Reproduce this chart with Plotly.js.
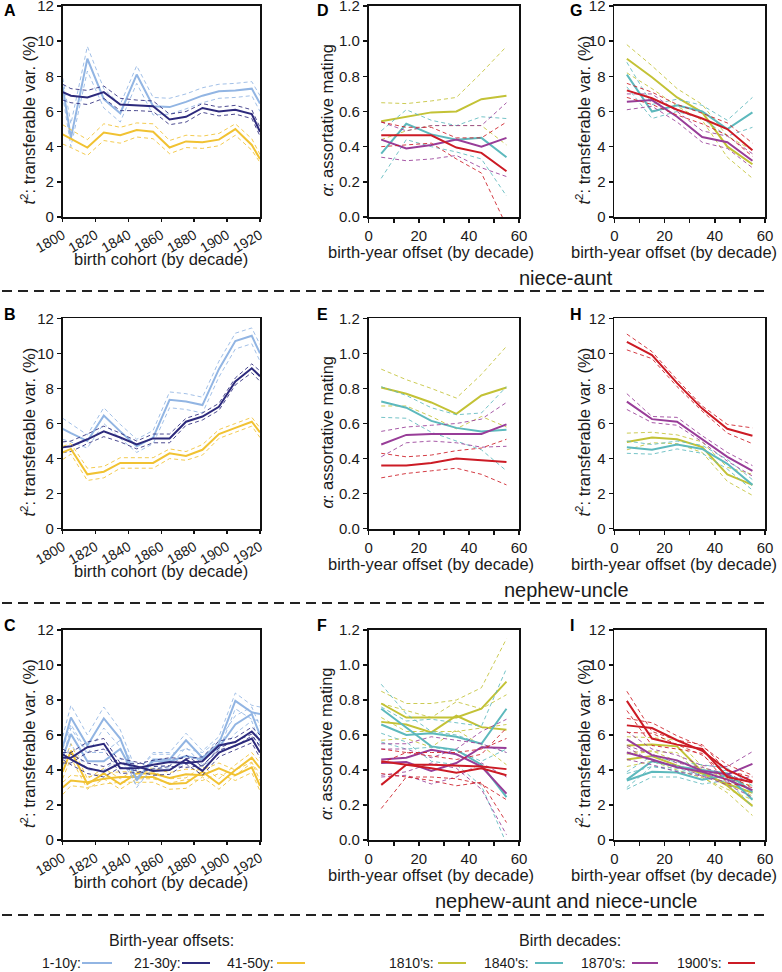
<!DOCTYPE html>
<html><head><meta charset="utf-8">
<script src="https://cdn.plot.ly/plotly-3.0.1.min.js"></script>
<style>html,body{margin:0;padding:0;background:#fff}#chart{width:782px;height:972px}</style>
</head><body><div id="chart"></div>
<script>
// ---------- data ----------
const cohortX = [1800,1805,1815,1825,1835,1845,1855,1865,1875,1885,1895,1905,1915,1920];
const offsetX = [5,15,25,35,45,55];
const cohortTicks = [1800,1820,1840,1860,1880,1900,1920];
const offsetTicks = [0,20,40,60];
const pctTicks = [0,2,4,6,8,10,12];
const alphaTicks = [0,0.2,0.4,0.6,0.8,1.0,1.2];

// Panel A: niece-aunt, by cohort
const A_light    = [7.4,4.5,9.0,6.7,5.9,8.1,6.3,6.25,6.55,6.9,7.15,7.2,7.3,6.45];
const A_light_hi = [7.9,5.3,9.7,7.3,6.4,8.6,6.8,6.75,7.0,7.35,7.55,7.6,7.7,6.9];
const A_light_lo = [6.9,4.0,8.3,6.2,5.4,7.6,5.8,5.85,6.15,6.5,6.75,6.8,6.9,6.0];
const A_dark     = [7.1,6.9,6.8,7.1,6.4,6.35,6.3,5.55,5.7,6.2,6.0,6.1,5.85,4.85];
const A_dark_hi  = [7.55,7.3,7.2,7.45,6.75,6.65,6.6,5.85,6.0,6.45,6.25,6.35,6.1,5.1];
const A_dark_lo  = [6.65,6.5,6.4,6.75,6.05,6.05,6.0,5.25,5.4,5.95,5.75,5.85,5.6,4.6];
const A_yel      = [4.7,4.45,3.95,4.8,4.65,4.95,4.85,3.95,4.3,4.25,4.4,5.0,4.1,3.3];
const A_yel_hi   = [5.25,4.95,4.4,5.3,5.1,5.35,5.3,4.35,4.65,4.6,4.75,5.3,4.45,3.55];
const A_yel_lo   = [4.15,3.95,3.5,4.35,4.2,4.55,4.45,3.6,3.95,3.9,4.05,4.65,3.8,3.1];

// Panel B: nephew-uncle, by cohort
const B_light    = [5.7,5.45,5.0,6.45,5.55,4.7,5.2,7.35,7.25,7.05,9.1,10.7,11.0,10.0];
const B_light_hi = [6.3,6.0,5.35,6.9,5.95,5.1,5.6,7.8,7.7,7.5,9.55,11.15,11.45,10.5];
const B_light_lo = [5.1,4.95,4.6,6.0,5.15,4.35,4.85,6.9,6.8,6.6,8.65,10.25,10.55,9.55];
const B_dark     = [4.65,4.7,5.1,5.55,5.2,4.8,5.15,5.15,6.1,6.4,6.95,8.4,9.15,8.7];
const B_dark_hi  = [4.95,5.0,5.4,5.85,5.45,5.0,5.4,5.4,6.3,6.6,7.15,8.6,9.4,9.0];
const B_dark_lo  = [4.35,4.4,4.85,5.25,4.95,4.55,4.9,4.9,5.9,6.2,6.75,8.2,8.9,8.4];
const B_yel      = [4.35,4.55,3.1,3.25,3.75,3.75,3.75,4.3,4.15,4.5,5.4,5.75,6.1,5.5];
const B_yel_hi   = [4.7,4.85,3.45,3.55,4.05,4.05,4.05,4.55,4.4,4.8,5.65,6.0,6.35,5.75];
const B_yel_lo   = [3.95,4.25,2.75,2.9,3.45,3.45,3.45,4.0,3.9,4.2,5.15,5.5,5.85,5.2];

// Panel C: nephew-aunt and niece-uncle, by cohort (two series per offset)
const C_light1    = [5.3,7.0,5.4,6.95,5.8,3.4,4.6,4.6,5.7,4.7,5.5,7.95,7.3,7.2];
const C_light1_hi = [5.9,7.7,6.0,7.6,6.3,3.9,5.0,5.0,6.1,5.1,5.9,8.4,7.7,7.6];
const C_light1_lo = [4.7,6.4,4.9,6.4,5.3,3.0,4.2,4.2,5.3,4.3,5.1,7.5,6.9,6.8];
const C_light2    = [4.7,6.05,4.5,4.5,5.2,3.5,4.5,4.5,4.8,4.6,5.3,6.6,7.2,6.0];
const C_light2_hi = [5.2,6.6,5.0,5.0,5.7,3.9,4.9,4.9,5.2,5.0,5.7,7.1,7.6,6.5];
const C_light2_lo = [4.2,5.5,4.0,4.0,4.7,3.1,4.1,4.1,4.4,4.2,4.9,6.1,6.8,5.5];
const C_dark1     = [4.7,4.7,5.3,5.5,4.1,4.1,4.3,4.45,4.4,4.5,5.4,5.6,6.2,5.7];
const C_dark1_hi  = [5.0,5.0,5.6,5.8,4.4,4.35,4.55,4.7,4.65,4.75,5.65,5.85,6.45,6.0];
const C_dark1_lo  = [4.4,4.4,5.0,5.2,3.8,3.85,4.05,4.2,4.15,4.25,5.15,5.35,5.95,5.4];
const C_dark2     = [4.9,4.6,4.1,3.9,4.4,4.2,3.95,4.0,4.6,3.95,5.0,5.4,5.8,5.0];
const C_dark2_hi  = [5.2,4.9,4.4,4.2,4.65,4.45,4.2,4.25,4.85,4.2,5.25,5.65,6.05,5.3];
const C_dark2_lo  = [4.6,4.3,3.8,3.6,4.15,3.95,3.7,3.75,4.35,3.7,4.75,5.15,5.55,4.7];
const C_yel1      = [3.9,5.1,3.2,3.8,3.2,3.8,3.8,3.55,3.75,3.7,4.1,3.7,4.15,3.1];
const C_yel1_hi   = [4.3,5.5,3.5,4.1,3.5,4.1,4.1,3.85,4.05,4.0,4.4,4.0,4.45,3.4];
const C_yel1_lo   = [3.5,4.7,2.9,3.5,2.9,3.5,3.5,3.25,3.45,3.4,3.8,3.4,3.85,2.8];
const C_yel2      = [3.0,3.4,3.3,3.5,3.6,3.6,3.6,3.2,3.25,3.9,3.2,4.0,4.7,4.1];
const C_yel2_hi   = [3.3,3.7,3.6,3.8,3.9,3.9,3.9,3.5,3.55,4.2,3.5,4.3,5.0,4.4];
const C_yel2_lo   = [2.6,3.1,3.0,3.2,3.3,3.3,3.3,2.9,2.95,3.6,2.9,3.7,4.4,3.8];

// Panel D: niece-aunt, assortative mating
const D_olive = [0.545,0.57,0.595,0.60,0.67,0.69];
const D_olive_hi = [0.65,0.645,0.66,0.68,0.82,0.97];
const D_olive_lo = [0.44,0.49,0.52,0.52,0.52,0.41];
const D_teal = [0.36,0.53,0.47,0.44,0.45,0.34];
const D_teal_hi = [0.49,0.61,0.55,0.52,0.57,0.56];
const D_teal_lo = [0.22,0.44,0.40,0.37,0.33,0.12];
const D_purple = [0.44,0.39,0.41,0.44,0.40,0.45];
const D_purple_hi = [0.54,0.49,0.52,0.52,0.52,0.65];
const D_purple_lo = [0.34,0.32,0.33,0.35,0.28,0.23];
const D_red = [0.465,0.465,0.465,0.395,0.365,0.26];
const D_red_hi = [0.54,0.51,0.51,0.45,0.45,0.54];
const D_red_lo = [0.40,0.41,0.42,0.33,0.25,-0.05];

// Panel E: nephew-uncle, assortative mating
const E_olive = [0.805,0.77,0.72,0.655,0.76,0.805];
const E_olive_hi = [0.91,0.85,0.80,0.745,0.88,1.04];
const E_olive_lo = [0.70,0.70,0.64,0.57,0.64,0.58];
const E_teal = [0.725,0.69,0.615,0.575,0.555,0.565];
const E_teal_hi = [0.81,0.76,0.69,0.65,0.66,0.81];
const E_teal_lo = [0.635,0.63,0.55,0.50,0.45,0.33];
const E_purple = [0.48,0.535,0.54,0.54,0.54,0.595];
const E_purple_hi = [0.555,0.58,0.59,0.60,0.625,0.72];
const E_purple_lo = [0.41,0.49,0.50,0.49,0.465,0.47];
const E_red = [0.36,0.36,0.375,0.40,0.39,0.38];
const E_red_hi = [0.43,0.41,0.42,0.445,0.46,0.51];
const E_red_lo = [0.29,0.315,0.33,0.345,0.31,0.25];

// Panel F: nephew-aunt and niece-uncle, assortative mating
const F_olive1 = [0.78,0.70,0.70,0.70,0.75,0.905];
const F_olive1_hi = [0.85,0.78,0.78,0.80,0.87,1.15];
const F_olive1_lo = [0.70,0.62,0.62,0.62,0.64,0.66];
const F_olive2 = [0.675,0.66,0.615,0.71,0.645,0.63];
const F_olive2_hi = [0.78,0.74,0.70,0.79,0.75,0.83];
const F_olive2_lo = [0.57,0.58,0.53,0.63,0.54,0.43];
const F_teal1 = [0.75,0.64,0.535,0.515,0.43,0.245];
const F_teal1_hi = [0.89,0.72,0.62,0.60,0.55,0.50];
const F_teal1_lo = [0.61,0.56,0.45,0.43,0.31,-0.02];
const F_teal2 = [0.66,0.60,0.61,0.59,0.55,0.75];
const F_teal2_hi = [0.76,0.68,0.69,0.67,0.65,0.98];
const F_teal2_lo = [0.56,0.52,0.53,0.51,0.45,0.52];
const F_purple1 = [0.46,0.47,0.515,0.49,0.42,0.265];
const F_purple1_hi = [0.55,0.55,0.59,0.57,0.55,0.50];
const F_purple1_lo = [0.37,0.39,0.44,0.41,0.29,0.03];
const F_purple2 = [0.44,0.445,0.395,0.44,0.53,0.525];
const F_purple2_hi = [0.52,0.52,0.47,0.52,0.62,0.69];
const F_purple2_lo = [0.36,0.37,0.32,0.36,0.44,0.36];
const F_red1 = [0.45,0.43,0.43,0.425,0.42,0.405];
const F_red1_hi = [0.52,0.50,0.50,0.50,0.52,0.58];
const F_red1_lo = [0.38,0.36,0.36,0.35,0.32,0.23];
const F_red2 = [0.315,0.43,0.41,0.385,0.41,0.37];
const F_red2_hi = [0.44,0.50,0.48,0.46,0.49,0.64];
const F_red2_lo = [0.18,0.36,0.34,0.31,0.33,0.10];

// Panel G: niece-aunt, by offset
const G_olive = [9.0,7.95,6.8,5.95,4.0,3.0];
const G_olive_hi = [9.8,8.6,7.3,6.4,4.6,3.8];
const G_olive_lo = [8.2,7.3,6.3,5.5,3.4,2.2];
const G_teal = [8.1,6.0,6.35,6.0,5.0,5.95];
const G_teal_hi = [8.8,6.4,6.7,6.35,5.5,6.8];
const G_teal_lo = [7.4,5.6,6.0,5.6,4.6,5.1];
const G_purple = [6.55,6.65,5.7,4.55,4.25,3.2];
const G_purple_hi = [7.0,7.0,6.0,4.9,4.6,3.6];
const G_purple_lo = [6.1,6.3,5.4,4.25,3.9,2.8];
const G_red = [7.2,6.75,6.1,5.6,5.0,3.8];
const G_red_hi = [7.6,7.1,6.4,5.9,5.35,4.2];
const G_red_lo = [6.8,6.4,5.8,5.3,4.65,3.45];

// Panel H: nephew-uncle, by offset
const H_red = [10.65,9.9,8.3,6.85,5.7,5.3];
const H_red_hi = [11.1,10.1,8.5,7.0,5.95,5.75];
const H_red_lo = [10.2,9.7,8.1,6.7,5.45,4.85];
const H_purple = [7.25,6.25,6.1,5.1,4.1,3.3];
const H_purple_hi = [7.7,6.4,6.35,5.3,4.35,3.6];
const H_purple_lo = [6.8,6.05,5.9,4.95,3.85,3.0];
const H_olive = [4.95,5.2,5.1,4.65,3.1,2.5];
const H_olive_hi = [5.45,5.5,5.35,4.95,3.5,3.1];
const H_olive_lo = [4.5,4.9,4.85,4.35,2.7,1.9];
const H_teal = [4.65,4.5,4.8,4.55,3.7,2.5];
const H_teal_hi = [5.0,4.8,5.0,4.75,3.95,2.8];
const H_teal_lo = [4.3,4.25,4.55,4.3,3.4,2.2];

// Panel I: nephew-aunt and niece-uncle, by offset
const I_red1 = [7.95,5.8,5.45,5.2,3.6,3.3];
const I_red1_hi = [8.5,6.2,5.7,5.45,3.95,3.6];
const I_red1_lo = [7.4,5.4,5.2,4.95,3.25,3.0];
const I_red2 = [6.55,6.4,5.7,5.1,4.0,3.35];
const I_red2_hi = [6.95,6.7,5.95,5.35,4.3,3.7];
const I_red2_lo = [6.15,6.1,5.45,4.85,3.7,3.0];
const I_purple1 = [5.75,4.85,4.55,3.95,3.75,4.35];
const I_purple1_hi = [6.2,5.2,4.85,4.25,4.2,5.05];
const I_purple1_lo = [5.3,4.5,4.25,3.65,3.3,3.65];
const I_purple2 = [5.0,4.6,4.15,3.9,3.45,2.85];
const I_purple2_hi = [5.4,4.9,4.4,4.15,3.75,3.25];
const I_purple2_lo = [4.6,4.3,3.9,3.65,3.15,2.45];
const I_olive1 = [5.4,5.45,5.35,3.9,3.1,1.95];
const I_olive1_hi = [5.9,5.85,5.7,4.2,3.5,2.5];
const I_olive1_lo = [4.9,5.05,5.0,3.6,2.7,1.4];
const I_olive2 = [4.6,4.8,4.25,3.8,3.2,2.7];
const I_olive2_hi = [5.0,5.1,4.5,4.05,3.5,3.1];
const I_olive2_lo = [4.2,4.5,4.0,3.55,2.9,2.3];
const I_teal1 = [3.4,3.9,3.85,3.45,3.7,2.3];
const I_teal1_hi = [3.8,4.2,4.1,3.7,4.0,2.7];
const I_teal1_lo = [2.9,3.6,3.6,3.2,3.4,1.9];
const I_teal2 = [3.45,4.5,4.2,4.0,3.8,2.75];
const I_teal2_hi = [3.9,4.8,4.45,4.3,4.1,3.1];
const I_teal2_lo = [3.0,4.2,3.95,3.7,3.5,2.4];

const offsetLegend = ['1-10y:','21-30y:','41-50y:'];
const decadeLegend = ["1810's:","1840's:","1870's:","1900's:"];
const groupLabels = ['niece-aunt','nephew-uncle','nephew-aunt and niece-uncle'];

// ---------- styling ----------
const C = {light:'#92b5e3', dark:'#2d2a7c', yel:'#f1c232', olive:'#c3c236', teal:'#5db9bd', purple:'#983d98', red:'#cc1b25'};
const FONT = 'Liberation Sans, Arial, Helvetica, sans-serif';
const TXT = '#1a1a1a';
const W = 782, H = 972;
const colX = [[62.7,260],[368.7,519],[614.3,765]];
const rowY = [[6,217],[318.3,528.7],[630,840]];
const px = v => v/W, py = v => 1 - v/H;

const traces = [];
function series(ax, x, mid, lo, hi, color){
  const xa = 'x'+(ax===1?'':ax), ya = 'y'+(ax===1?'':ax);
  [lo, hi].forEach(b => traces.push({x:x, y:b, xaxis:xa, yaxis:ya, mode:'lines', type:'scatter',
    line:{color:color, width:1, dash:'4px,3px'}, opacity:0.85, hoverinfo:'skip', showlegend:false}));
  traces.push({x:x, y:mid, xaxis:xa, yaxis:ya, mode:'lines', type:'scatter',
    line:{color:color, width:2}, showlegend:false});
}

// subplot ids: A1 D2 G3 / B4 E5 H6 / C7 F8 I9
series(1, cohortX, A_light, A_light_lo, A_light_hi, C.light);
series(1, cohortX, A_dark, A_dark_lo, A_dark_hi, C.dark);
series(1, cohortX, A_yel, A_yel_lo, A_yel_hi, C.yel);
series(4, cohortX, B_light, B_light_lo, B_light_hi, C.light);
series(4, cohortX, B_dark, B_dark_lo, B_dark_hi, C.dark);
series(4, cohortX, B_yel, B_yel_lo, B_yel_hi, C.yel);
series(7, cohortX, C_yel1, C_yel1_lo, C_yel1_hi, C.yel);
series(7, cohortX, C_yel2, C_yel2_lo, C_yel2_hi, C.yel);
series(7, cohortX, C_light1, C_light1_lo, C_light1_hi, C.light);
series(7, cohortX, C_light2, C_light2_lo, C_light2_hi, C.light);
series(7, cohortX, C_dark1, C_dark1_lo, C_dark1_hi, C.dark);
series(7, cohortX, C_dark2, C_dark2_lo, C_dark2_hi, C.dark);

series(2, offsetX, D_olive, D_olive_lo, D_olive_hi, C.olive);
series(2, offsetX, D_teal, D_teal_lo, D_teal_hi, C.teal);
series(2, offsetX, D_purple, D_purple_lo, D_purple_hi, C.purple);
series(2, offsetX, D_red, D_red_lo, D_red_hi, C.red);
series(5, offsetX, E_olive, E_olive_lo, E_olive_hi, C.olive);
series(5, offsetX, E_teal, E_teal_lo, E_teal_hi, C.teal);
series(5, offsetX, E_purple, E_purple_lo, E_purple_hi, C.purple);
series(5, offsetX, E_red, E_red_lo, E_red_hi, C.red);
series(8, offsetX, F_olive1, F_olive1_lo, F_olive1_hi, C.olive);
series(8, offsetX, F_olive2, F_olive2_lo, F_olive2_hi, C.olive);
series(8, offsetX, F_teal1, F_teal1_lo, F_teal1_hi, C.teal);
series(8, offsetX, F_teal2, F_teal2_lo, F_teal2_hi, C.teal);
series(8, offsetX, F_purple1, F_purple1_lo, F_purple1_hi, C.purple);
series(8, offsetX, F_purple2, F_purple2_lo, F_purple2_hi, C.purple);
series(8, offsetX, F_red1, F_red1_lo, F_red1_hi, C.red);
series(8, offsetX, F_red2, F_red2_lo, F_red2_hi, C.red);

series(3, offsetX, G_olive, G_olive_lo, G_olive_hi, C.olive);
series(3, offsetX, G_teal, G_teal_lo, G_teal_hi, C.teal);
series(3, offsetX, G_purple, G_purple_lo, G_purple_hi, C.purple);
series(3, offsetX, G_red, G_red_lo, G_red_hi, C.red);
series(6, offsetX, H_olive, H_olive_lo, H_olive_hi, C.olive);
series(6, offsetX, H_teal, H_teal_lo, H_teal_hi, C.teal);
series(6, offsetX, H_purple, H_purple_lo, H_purple_hi, C.purple);
series(6, offsetX, H_red, H_red_lo, H_red_hi, C.red);
series(9, offsetX, I_olive1, I_olive1_lo, I_olive1_hi, C.olive);
series(9, offsetX, I_olive2, I_olive2_lo, I_olive2_hi, C.olive);
series(9, offsetX, I_teal1, I_teal1_lo, I_teal1_hi, C.teal);
series(9, offsetX, I_teal2, I_teal2_lo, I_teal2_hi, C.teal);
series(9, offsetX, I_purple1, I_purple1_lo, I_purple1_hi, C.purple);
series(9, offsetX, I_purple2, I_purple2_lo, I_purple2_hi, C.purple);
series(9, offsetX, I_red1, I_red1_lo, I_red1_hi, C.red);
series(9, offsetX, I_red2, I_red2_lo, I_red2_hi, C.red);

const layout = {
  width:W, height:H, margin:{l:0,r:0,t:0,b:0}, paper_bgcolor:'#fff', plot_bgcolor:'#fff',
  font:{family:FONT, size:15, color:TXT}, showlegend:false,
  annotations:[], shapes:[]
};
const letters = [['A','D','G'],['B','E','H'],['C','F','I']];
const letterY = [10, 314, 625];
const letterX = [2, 315, 568];
const ytitleX = [28, 326, 583];
const xtitleX = [161, 431, 674];
const xtitleDy = [42, 35, 35];
const T2 = '<i>t</i><sup>2</sup>: transferable var. (%)';
const ALPHA = '<i>α</i>: assortative mating';
function ann(x, y, text, size, extra){
  layout.annotations.push(Object.assign({xref:'paper', yref:'paper', x:px(x), y:py(y), xanchor:'center', yanchor:'middle',
    text:text, showarrow:false, font:{size:size, family:FONT, color:TXT}}, extra||{}));
}
for(let r=0;r<3;r++){
  for(let c=0;c<3;c++){
    const id = r*3+c+1, s = id===1?'':id;
    const isCohort = c===0, isAlpha = c===1;
    const common = {showline:true, mirror:true, linecolor:'#111', linewidth:1.8, ticks:'outside', ticklen:4,
      tickwidth:1.5, tickcolor:'#111', showgrid:false, zeroline:false, fixedrange:true,
      ticklabeloverflow:'allow', tickfont:{size:15, family:FONT, color:TXT}, tickmode:'array'};
    const xa = Object.assign({}, common, {domain:[px(colX[c][0]), px(colX[c][1])], anchor:'y'+s});
    if(isCohort){ Object.assign(xa, {range:[1800,1920], tickvals:cohortTicks, tickangle:-30, ticklen:3,
      tickfont:{size:14, family:FONT, color:TXT}}); }
    else { Object.assign(xa, {range:[0,60], tickvals:offsetTicks,
      minor:{tickmode:'array', tickvals:[10,30,50], ticks:'outside', ticklen:4, tickwidth:1.5, tickcolor:'#111'}}); }
    const ya = Object.assign({}, common, {domain:[py(rowY[r][1]), py(rowY[r][0])], anchor:'x'+s});
    if(isAlpha){ Object.assign(ya, {range:[0,1.2], tickvals:alphaTicks, ticktext:alphaTicks.map(v=>v.toFixed(1))}); }
    else { Object.assign(ya, {range:[0,12], tickvals:pctTicks}); }
    layout['xaxis'+s] = xa; layout['yaxis'+s] = ya;
    ann(letterX[c], letterY[r], '<b>'+letters[r][c]+'</b>', 16, {xanchor:'left', font:{size:16, family:FONT, color:'#000'}});
    const mid = (rowY[r][0]+rowY[r][1])/2 + 9;
    ann(ytitleX[c], mid, isAlpha ? ALPHA : T2, 16.5, {textangle:-90});
    ann(xtitleX[c], rowY[r][1] + xtitleDy[c], isCohort ? 'birth cohort (by decade)' : 'birth-year offset (by decade)', 16.5);
  }
}
// group labels and separators
const groupY = [278, 590, 901];
const sepY = [291, 603, 915];
groupLabels.forEach((g,i)=>{
  ann(566, groupY[i], g, 20);
  layout.shapes.push({type:'line', xref:'paper', yref:'paper', x0:px(2), x1:px(766), y0:py(sepY[i]), y1:py(sepY[i]),
    line:{color:'#222', width:1.8, dash:'10px,6px'}});
});
// legends
ann(171, 940, 'Birth-year offsets:', 16);
ann(570, 940, 'Birth decades:', 16);
const legY = 963;
const offTextX = [40, 132, 225], offLine = [[82,112],[182,210],[277,305]], offCol = [C.light, C.dark, C.yel];
offsetLegend.forEach((t,i)=>{
  ann(offTextX[i], legY, t, 14, {xanchor:'left'});
  layout.shapes.push({type:'line', xref:'paper', yref:'paper', x0:px(offLine[i][0]), x1:px(offLine[i][1]), y0:py(legY), y1:py(legY),
    line:{color:offCol[i], width:2}});
});
const decTextX = [387, 482, 579, 675], decLine = [[438,466],[535,563],[632,658],[728,755]], decCol = [C.olive, C.teal, C.purple, C.red];
decadeLegend.forEach((t,i)=>{
  ann(decTextX[i], legY, t, 14, {xanchor:'left'});
  layout.shapes.push({type:'line', xref:'paper', yref:'paper', x0:px(decLine[i][0]), x1:px(decLine[i][1]), y0:py(legY), y1:py(legY),
    line:{color:decCol[i], width:2}});
});

Plotly.newPlot('chart', traces, layout, {staticPlot:true, displayModeBar:false});
</script>
</body></html>
